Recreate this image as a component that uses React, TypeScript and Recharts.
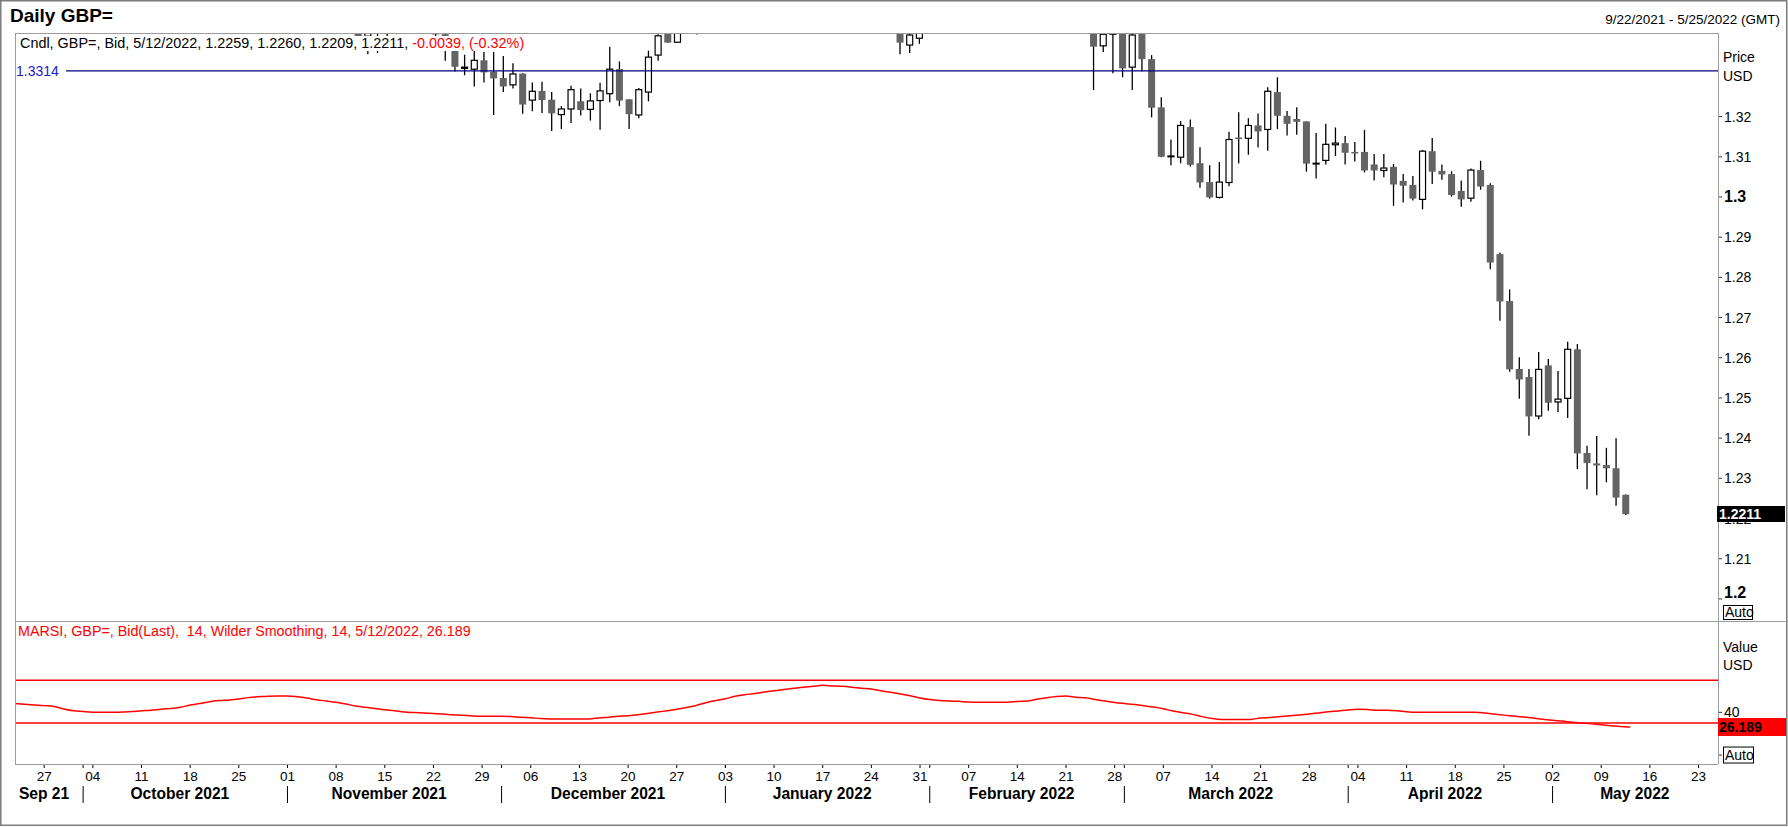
import React from "react";
import { ComposedChart, Bar, Line, XAxis, YAxis, ReferenceLine } from "recharts";

const FONT = '"Liberation Sans", Arial, Helvetica, sans-serif';

// layout
const WIDTH = 1788;
const HEIGHT = 827;
const PLOT_LEFT = 15;
const PLOT_RIGHT = 1718;
const PRICE_TOP = 33;
const SPLIT_Y = 621;
const AXIS_Y = 764;
const AXIS_W = 67;
const RSI_H = 188;
const PRICE_DOMAIN = [1.1945, 1.3408];
const RSI_DOMAIN = [-8.4, 125.6];

const monthLabels = [
  "Sep 21",
  "October 2021",
  "November 2021",
  "December 2021",
  "January 2022",
  "February 2022",
  "March 2022",
  "April 2022",
  "May 2022",
];

const priceTicks = [1.2, 1.21, 1.22, 1.23, 1.24, 1.25, 1.26, 1.27, 1.28, 1.29, 1.3, 1.31, 1.32];
const rsiTicks = [0, 40];
const rsiBands = [70, 30];
const lastLine = 1.3314;

// daily candles, 9/22/2021 .. 5/12/2022 (weekdays)
const opens = [
  1.3665, 1.3625, 1.3735, 1.368, 1.3695, 1.3545, 1.344, 1.3475, 1.354, 1.361,
  1.3615, 1.359, 1.3615, 1.362, 1.3605, 1.359, 1.3675, 1.37, 1.3745, 1.3735,
  1.3825, 1.3815, 1.3795, 1.3755, 1.377, 1.3755, 1.3745, 1.38, 1.368, 1.363,
  1.3615, 1.367, 1.35, 1.3495, 1.355, 1.3555, 1.34, 1.341, 1.342, 1.3425,
  1.3455, 1.349, 1.3495, 1.344, 1.3405, 1.3364, 1.332, 1.3318, 1.334, 1.3312,
  1.3296, 1.3279, 1.3307, 1.3241, 1.3264, 1.3242, 1.3205, 1.3219, 1.3238, 1.3218,
  1.324, 1.3257, 1.3318, 1.3243, 1.3204, 1.3261, 1.3353, 1.341, 1.3385, 1.3425,
  1.343, 1.349, 1.351, 1.353, 1.348, 1.353, 1.355, 1.354, 1.359, 1.3595,
  1.367, 1.371, 1.3715, 1.3675, 1.3645, 1.36, 1.362, 1.3615, 1.355, 1.348,
  1.35, 1.3465, 1.3378, 1.3395, 1.3445, 1.351, 1.357, 1.3595, 1.353, 1.3535,
  1.3535, 1.356, 1.3565, 1.356, 1.353, 1.3535, 1.3585, 1.361, 1.359, 1.3595,
  1.3605, 1.355, 1.3376, 1.3405, 1.3415, 1.3323, 1.341, 1.3343, 1.3223, 1.31,
  1.3099, 1.3174, 1.3084, 1.3037, 1.2999, 1.3036, 1.3148, 1.3146, 1.3178, 1.3168,
  1.3261, 1.3202, 1.3194, 1.3188, 1.3082, 1.3091, 1.313, 1.3134, 1.3112, 1.3112,
  1.3081, 1.3066, 1.3075, 1.304, 1.303, 1.2994, 1.3114, 1.3065, 1.3057, 1.3015,
  1.2997, 1.3067, 1.303, 1.2858, 1.2741, 1.2572, 1.2552, 1.2455, 1.2581, 1.249,
  1.2499, 1.2621, 1.2363, 1.2337, 1.2333, 1.2325, 1.2259,
];
const highs = [
  1.372, 1.375, 1.375, 1.375, 1.371, 1.356, 1.35, 1.356, 1.364, 1.364,
  1.3625, 1.364, 1.3675, 1.364, 1.3635, 1.369, 1.372, 1.3775, 1.376, 1.3835,
  1.383, 1.383, 1.381, 1.3785, 1.38, 1.3765, 1.3815, 1.382, 1.3705, 1.37,
  1.369, 1.37, 1.3525, 1.356, 1.3605, 1.357, 1.3425, 1.343, 1.344, 1.3515,
  1.3515, 1.3515, 1.35, 1.347, 1.342, 1.337, 1.3354, 1.337, 1.3361, 1.3361,
  1.3351, 1.3333, 1.3308, 1.3285, 1.3287, 1.3261, 1.3226, 1.3277, 1.327, 1.3258,
  1.3284, 1.3374, 1.3337, 1.3243, 1.3271, 1.3364, 1.3405, 1.343, 1.344, 1.344,
  1.35, 1.352, 1.3545, 1.3545, 1.355, 1.36, 1.356, 1.36, 1.3615, 1.3675,
  1.372, 1.375, 1.3725, 1.3685, 1.3655, 1.364, 1.364, 1.363, 1.356, 1.352,
  1.3515, 1.348, 1.342, 1.345, 1.353, 1.358, 1.363, 1.361, 1.355, 1.3575,
  1.3575, 1.364, 1.3575, 1.3565, 1.356, 1.359, 1.3645, 1.364, 1.363, 1.365,
  1.3625, 1.3565, 1.342, 1.344, 1.344, 1.3415, 1.344, 1.3353, 1.3248, 1.3143,
  1.3189, 1.3193, 1.3124, 1.3079, 1.3087, 1.3162, 1.3211, 1.3196, 1.3208, 1.3273,
  1.3298, 1.3214, 1.3223, 1.3188, 1.3159, 1.3182, 1.3173, 1.3152, 1.3137, 1.3167,
  1.3107, 1.3107, 1.3082, 1.3057, 1.3052, 1.3117, 1.3147, 1.3081, 1.3064, 1.3041,
  1.3071, 1.309, 1.3034, 1.2862, 1.277, 1.2601, 1.2572, 1.2614, 1.2597, 1.2567,
  1.264, 1.2634, 1.2381, 1.2405, 1.2376, 1.24, 1.226,
];
const lows = [
  1.361, 1.361, 1.3665, 1.367, 1.353, 1.3415, 1.342, 1.345, 1.353, 1.357,
  1.3545, 1.357, 1.3605, 1.3575, 1.357, 1.3575, 1.365, 1.369, 1.3695, 1.372,
  1.3765, 1.378, 1.3735, 1.3745, 1.374, 1.3715, 1.3725, 1.367, 1.3605, 1.361,
  1.36, 1.347, 1.3425, 1.3475, 1.352, 1.3395, 1.3355, 1.3358, 1.34, 1.3405,
  1.344, 1.3445, 1.342, 1.3395, 1.3339, 1.3312, 1.3303, 1.3275, 1.3285, 1.3204,
  1.3261, 1.327, 1.3207, 1.3213, 1.3209, 1.3164, 1.3169, 1.3184, 1.3203, 1.319,
  1.3167, 1.3236, 1.3226, 1.3169, 1.3196, 1.3238, 1.3339, 1.3384, 1.3385, 1.341,
  1.3404, 1.3465, 1.3475, 1.343, 1.344, 1.352, 1.349, 1.3525, 1.355, 1.358,
  1.3655, 1.3695, 1.3655, 1.363, 1.3585, 1.358, 1.359, 1.354, 1.344, 1.344,
  1.344, 1.3355, 1.3358, 1.3381, 1.343, 1.3505, 1.352, 1.349, 1.3485, 1.3505,
  1.3515, 1.35, 1.352, 1.349, 1.3505, 1.3505, 1.3575, 1.3585, 1.3565, 1.353,
  1.3545, 1.3266, 1.3361, 1.3308, 1.3298, 1.3266, 1.3313, 1.3198, 1.3099, 1.3079,
  1.3084, 1.3076, 1.3023, 1.2996, 1.2996, 1.3027, 1.3083, 1.3105, 1.3123, 1.3115,
  1.3169, 1.3153, 1.3155, 1.3063, 1.3046, 1.3081, 1.3102, 1.3081, 1.3088, 1.3061,
  1.3041, 1.3049, 1.2978, 1.2986, 1.2991, 1.2969, 1.3032, 1.3043, 1.3001, 1.2976,
  1.2988, 1.3018, 1.282, 1.2692, 1.2565, 1.2498, 1.2406, 1.2447, 1.2468, 1.2465,
  1.245, 1.2323, 1.2273, 1.2258, 1.229, 1.2232, 1.2209,
];
const closes = [
  1.3625, 1.3735, 1.368, 1.3695, 1.3545, 1.344, 1.3475, 1.354, 1.361, 1.3615,
  1.359, 1.3615, 1.362, 1.3605, 1.359, 1.3675, 1.37, 1.3745, 1.3735, 1.3825,
  1.3815, 1.3795, 1.3755, 1.377, 1.3755, 1.3745, 1.38, 1.368, 1.363, 1.3615,
  1.367, 1.35, 1.3495, 1.355, 1.3555, 1.34, 1.341, 1.342, 1.3425, 1.3455,
  1.349, 1.3495, 1.344, 1.3405, 1.3364, 1.3324, 1.3323, 1.334, 1.331, 1.3295,
  1.3275, 1.3306, 1.323, 1.3263, 1.3241, 1.3208, 1.3219, 1.3267, 1.3216, 1.3239,
  1.3264, 1.3318, 1.324, 1.3206, 1.3267, 1.3348, 1.3401, 1.3384, 1.3425, 1.343,
  1.349, 1.351, 1.353, 1.348, 1.353, 1.355, 1.354, 1.359, 1.3595, 1.367,
  1.371, 1.3715, 1.3675, 1.3645, 1.36, 1.362, 1.3615, 1.355, 1.348, 1.35,
  1.3465, 1.3384, 1.3403, 1.3445, 1.351, 1.357, 1.3595, 1.353, 1.3535, 1.3535,
  1.356, 1.3565, 1.356, 1.353, 1.3535, 1.3585, 1.361, 1.359, 1.3595, 1.3605,
  1.355, 1.3374, 1.3405, 1.3415, 1.332, 1.3403, 1.3343, 1.3222, 1.31, 1.3102,
  1.3178, 1.308, 1.3036, 1.2999, 1.3037, 1.3143, 1.3144, 1.3178, 1.3163, 1.3263,
  1.3202, 1.3182, 1.3187, 1.3083, 1.3084, 1.3131, 1.3134, 1.311, 1.3111, 1.3066,
  1.3066, 1.3072, 1.3031, 1.3028, 1.2996, 1.3114, 1.3063, 1.3056, 1.3005, 1.2994,
  1.3067, 1.3026, 1.2837, 1.274, 1.2571, 1.2546, 1.2454, 1.2571, 1.2488, 1.2497,
  1.2621, 1.2362, 1.2338, 1.2332, 1.2325, 1.2252, 1.2211,
];

// smoothed RSI (14, Wilder)
const rsi = [
  48.4, 47.5, 46.9, 46.3, 45.5, 43.2, 41.5, 40.8, 40.2, 40.0,
  40.0, 40.3, 40.7, 41.5, 42.0, 43.0, 43.6, 44.8, 46.8, 48.2,
  50.0, 51.0, 51.6, 52.5, 53.8, 54.6, 55.2, 55.3, 55.3, 54.6,
  53.4, 51.8, 50.6, 49.4, 47.8, 46.0, 44.7, 43.6, 42.4, 41.5,
  40.4, 39.8, 39.3, 39.0, 38.4, 37.7, 37.2, 36.6, 36.3, 36.3,
  36.3, 36.1, 35.3, 35.0, 34.2, 33.8, 33.7, 33.7, 33.7, 33.8,
  34.8, 35.5, 36.4, 36.7, 37.8, 39.0, 40.3, 41.5, 42.8, 44.6,
  46.5, 49.0, 51.0, 52.8, 55.0, 56.5, 57.6, 59.0, 60.3, 61.4,
  62.5, 63.6, 64.4, 65.3, 64.8, 64.4, 63.6, 62.6, 61.9, 60.2,
  58.8, 57.3, 55.6, 53.5, 52.0, 51.1, 50.6, 50.3, 49.6, 49.4,
  49.4, 49.4, 49.5, 50.2, 50.6, 52.2, 53.6, 54.8, 55.3, 54.2,
  53.6, 52.0, 50.6, 49.3, 48.3, 47.4, 46.2, 45.0, 43.4, 41.2,
  39.6, 38.1, 36.0, 34.3, 33.4, 33.4, 33.4, 33.4, 34.8, 35.2,
  36.0, 36.8, 37.6, 38.5, 39.5, 40.5, 41.3, 42.2, 42.8, 42.6,
  41.9, 41.9, 41.6, 40.5, 40.0, 40.0, 40.0, 40.0, 40.0, 40.0,
  40.0, 39.4, 38.4, 37.4, 36.5, 35.6, 34.6, 33.5, 32.5, 31.8,
  30.8, 30.0, 29.2, 28.3, 27.5, 26.8, 26.189,
];

// weekday calendar of the visible range
const days: string[] = [];
{
  const d = new Date(Date.UTC(2021, 8, 22));
  const end = Date.UTC(2022, 4, 25);
  while (d.getTime() <= end) {
    const wd = d.getUTCDay();
    if (wd !== 0 && wd !== 6) days.push(d.toISOString().slice(0, 10));
    d.setUTCDate(d.getUTCDate() + 1);
  }
}

const rows = days.map((key, i) => ({
  key,
  open: i < opens.length ? opens[i] : null,
  high: i < highs.length ? highs[i] : null,
  low: i < lows.length ? lows[i] : null,
  close: i < closes.length ? closes[i] : null,
  rsi: i < rsi.length ? rsi[i] : null,
}));

const monthSpans: { m: string; start: number; end: number; label: string }[] = [];
days.forEach((k, i) => {
  const m = k.slice(0, 7);
  const last = monthSpans[monthSpans.length - 1];
  if (!last || last.m !== m) {
    monthSpans.push({ m, start: i, end: i, label: monthLabels[monthSpans.length] });
  } else {
    last.end = i;
  }
});

const STEP = (PLOT_RIGHT - PLOT_LEFT) / days.length;

function Candle(props: any) {
  const { x, y, width, height, payload } = props;
  if (!payload || payload.high == null || !isFinite(y) || !isFinite(height)) return <g />;
  const { open, high, low, close } = payload;
  const span = high - low;
  const toY = (v: number) => (span > 0 ? y + ((high - v) / span) * height : y);
  const clip = (v: number) => Math.min(Math.max(v, PRICE_TOP), SPLIT_Y);
  const cx = x + width / 2;
  const wt = clip(toY(high));
  const wb = clip(toY(low));
  const bt = clip(toY(Math.max(open, close)));
  const bb = clip(toY(Math.min(open, close)));
  const up = close >= open;
  const fullyOut = toY(Math.min(open, close)) < PRICE_TOP || toY(Math.max(open, close)) > SPLIT_Y;
  return (
    <g>
      {wb - wt > 0.3 && <line x1={cx} x2={cx} y1={wt} y2={wb} stroke="#000" strokeWidth={1.3} />}
      {!fullyOut &&
        (up ? (
          <rect x={x + 0.5} y={bt} width={width - 1} height={Math.max(bb - bt, 0.8)} fill="#fff" stroke="#000" strokeWidth={1.2} />
        ) : (
          <rect x={x} y={bt} width={width} height={Math.max(bb - bt, 1.5)} fill="#646464" />
        ))}
    </g>
  );
}

function PriceTick(props: any) {
  const { y, payload } = props;
  const v = payload.value as number;
  const major = Math.abs(v * 10 - Math.round(v * 10)) < 1e-6;
  const label = major ? (Math.round(v * 10) / 10).toFixed(1) : v.toFixed(2);
  const dy = major && v < 1.25 ? -6 : 0;
  return (
    <g>
      <line x1={PLOT_RIGHT} x2={PLOT_RIGHT + 4} y1={y} y2={y} stroke="#333" />
      <text
        x={PLOT_RIGHT + 6}
        y={y + dy}
        dominantBaseline="central"
        fontSize={major ? 16 : 14}
        fontWeight={major ? "bold" : "normal"}
        fill="#000"
        fontFamily={FONT}
      >
        {label}
      </text>
    </g>
  );
}

function RsiTick(props: any) {
  const { y, payload } = props;
  const v = payload.value as number;
  return (
    <g>
      <line x1={PLOT_RIGHT} x2={PLOT_RIGHT + 4} y1={y} y2={y} stroke="#333" />
      {v === 0 ? (
        <g>
          <rect x={PLOT_RIGHT + 5.5} y={y - 8} width={30} height={16} fill="#fff" stroke="#000" />
          <text x={PLOT_RIGHT + 7} y={y} dominantBaseline="central" fontSize={14} fill="#000" fontFamily={FONT}>
            Auto
          </text>
        </g>
      ) : (
        <text x={PLOT_RIGHT + 6} y={y} dominantBaseline="central" fontSize={14} fill="#000" fontFamily={FONT}>
          {v}
        </text>
      )}
    </g>
  );
}

const AX = AXIS_Y - SPLIT_Y; // x axis line inside the lower chart

function DateTick(props: any) {
  const { x, payload } = props;
  const key = payload.value as string;
  const i = days.indexOf(key);
  const d = new Date(key + "T00:00:00Z");
  const span = monthSpans.find((s) => s.start === i);
  const monday = d.getUTCDay() === 1;
  return (
    <g>
      {monday && (
        <g>
          <line x1={x} x2={x} y1={AX + 1} y2={AX + 4} stroke="#000" />
          <text x={x} y={AX + 12} textAnchor="middle" dominantBaseline="central" fontSize={13.5} fill="#000" fontFamily={FONT}>
            {String(d.getUTCDate()).padStart(2, "0")}
          </text>
        </g>
      )}
      {span && span.start > 0 && (
        <g>
          <line x1={x} x2={x} y1={AX} y2={AX + 4} stroke="#000" />
          <line x1={x} x2={x} y1={AX + 22} y2={AX + 39} stroke="#000" />
        </g>
      )}
      {span && (
        <text
          x={x + ((span.end - span.start) / 2) * STEP}
          y={AX + 29}
          textAnchor="middle"
          dominantBaseline="central"
          fontSize={15.6}
          fontWeight="bold"
          fill="#000"
          fontFamily={FONT}
        >
          {span.label}
        </text>
      )}
    </g>
  );
}

const abs = (left: number, top: number, extra: React.CSSProperties = {}): React.CSSProperties => ({
  position: "absolute",
  left,
  top,
  whiteSpace: "nowrap",
  fontFamily: FONT,
  ...extra,
});

export default function App() {
  return (
    <div style={{ position: "absolute", left: 0, top: 0, width: WIDTH, height: HEIGHT, background: "#fff", overflow: "hidden" }}>
      <div style={{ position: "absolute", left: 0, top: 0 }}>
        <ComposedChart width={WIDTH} height={SPLIT_Y} data={rows} margin={{ top: PRICE_TOP, right: 3, bottom: 0, left: PLOT_LEFT }}>
          <XAxis dataKey="key" type="category" hide />
          <YAxis
            orientation="right"
            width={AXIS_W}
            domain={PRICE_DOMAIN}
            allowDataOverflow
            ticks={priceTicks}
            interval={0}
            axisLine={false}
            tickLine={false}
            tick={(p: any) => <PriceTick {...p} />}
          />
          <ReferenceLine y={lastLine} stroke="#000080" strokeWidth={1.3} ifOverflow="extendDomain" />
          <Bar
            dataKey={(d: any) => (d.high == null ? null : [d.low, d.high])}
            barSize={7}
            shape={(p: any) => <Candle {...p} />}
            isAnimationActive={false}
          />
        </ComposedChart>
      </div>

      <div style={{ position: "absolute", left: 0, top: SPLIT_Y }}>
        <ComposedChart width={WIDTH} height={RSI_H} data={rows} margin={{ top: 0, right: 3, bottom: 0, left: PLOT_LEFT }}>
          <XAxis
            dataKey="key"
            type="category"
            height={RSI_H - AX}
            interval={0}
            axisLine={false}
            tickLine={false}
            tick={(p: any) => <DateTick {...p} />}
          />
          <YAxis
            orientation="right"
            width={AXIS_W}
            domain={RSI_DOMAIN}
            allowDataOverflow
            ticks={rsiTicks}
            interval={0}
            axisLine={false}
            tickLine={false}
            tick={(p: any) => <RsiTick {...p} />}
          />
          {rsiBands.map((b) => (
            <ReferenceLine key={b} y={b} stroke="#ff0000" strokeWidth={1.5} />
          ))}
          <Line
            dataKey="rsi"
            type="monotone"
            stroke="#ff0000"
            strokeWidth={1.5}
            dot={false}
            activeDot={false}
            isAnimationActive={false}
          />
        </ComposedChart>
      </div>

      <svg width={WIDTH} height={HEIGHT} style={{ position: "absolute", left: 0, top: 0, pointerEvents: "none" }}>
        <rect x={0.75} y={0.75} width={WIDTH - 2} height={HEIGHT - 2.5} fill="none" stroke="#7c7c7c" strokeWidth={1.5} />
        <g stroke="#9c9c9c" strokeWidth={1}>
          <line x1={PLOT_LEFT} x2={PLOT_RIGHT} y1={PRICE_TOP + 0.5} y2={PRICE_TOP + 0.5} />
          <line x1={PLOT_LEFT + 0.5} x2={PLOT_LEFT + 0.5} y1={PRICE_TOP} y2={AXIS_Y} />
          <line x1={PLOT_LEFT} x2={WIDTH} y1={SPLIT_Y + 0.5} y2={SPLIT_Y + 0.5} />
          <line x1={PLOT_LEFT} x2={PLOT_RIGHT} y1={AXIS_Y + 0.5} y2={AXIS_Y + 0.5} />
          <line x1={PLOT_RIGHT + 0.5} x2={PLOT_RIGHT + 0.5} y1={PRICE_TOP} y2={AXIS_Y} />
        </g>
      </svg>

      <div style={abs(10, 4, { fontSize: 19, fontWeight: "bold", lineHeight: "24px" })}>Daily GBP=</div>
      <div style={abs(0, 12, { width: 1780, textAlign: "right", fontSize: 13.5, lineHeight: "16px" })}>
        9/22/2021 - 5/25/2022 (GMT)
      </div>

      <div style={abs(20, 36, { fontSize: 14.4, lineHeight: "15px", background: "#fff", paddingRight: 2 })}>
        Cndl, GBP=, Bid, 5/12/2022, 1.2259, 1.2260, 1.2209, 1.2211,{" "}
        <span style={{ color: "#ff0000" }}>-0.0039, (-0.32%)</span>
      </div>
      <div style={abs(16, 64, { fontSize: 14, lineHeight: "15px", color: "#2020c8", background: "#fff", width: 50 })}>
        1.3314
      </div>

      <div style={abs(PLOT_RIGHT + 5, 49, { fontSize: 14, lineHeight: "16px" })}>Price</div>
      <div style={abs(PLOT_RIGHT + 5, 68, { fontSize: 14, lineHeight: "16px" })}>USD</div>
      <div
        style={abs(PLOT_RIGHT - 1, 506, {
          width: 68,
          height: 16,
          background: "#000",
          color: "#fff",
          fontSize: 14,
          fontWeight: "bold",
          lineHeight: "16px",
          paddingLeft: 2,
          boxSizing: "border-box",
        })}
      >
        1.2211
      </div>
      <div
        style={abs(PLOT_RIGHT + 5, 605, {
          width: 30,
          height: 15,
          border: "1px solid #000",
          boxSizing: "border-box",
          fontSize: 14,
          lineHeight: "13px",
          paddingLeft: 1,
        })}
      >
        Auto
      </div>

      <div style={abs(18, 623, { fontSize: 14.3, lineHeight: "16px", color: "#ff0000" })}>
        MARSI, GBP=, Bid(Last),&nbsp; 14, Wilder Smoothing, 14, 5/12/2022, 26.189
      </div>
      <div style={abs(PLOT_RIGHT + 5, 639, { fontSize: 14, lineHeight: "16px" })}>Value</div>
      <div style={abs(PLOT_RIGHT + 5, 657, { fontSize: 14, lineHeight: "16px" })}>USD</div>
      <div
        style={abs(PLOT_RIGHT, 718, {
          width: 68,
          height: 18,
          background: "#ff0000",
          color: "#000",
          fontSize: 14,
          fontWeight: "bold",
          lineHeight: "18px",
          paddingLeft: 1,
          boxSizing: "border-box",
        })}
      >
        26.189
      </div>
    </div>
  );
}
